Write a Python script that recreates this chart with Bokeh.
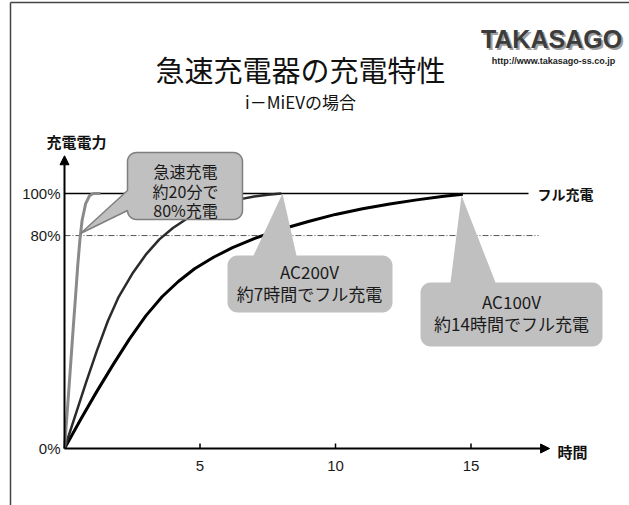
import math
from bokeh.plotting import figure
from bokeh.models import Range1d, Arrow, NormalHead
from bokeh.core.properties import value
from bokeh.embed import file_html
from bokeh.resources import INLINE

# ---------------- data ----------------
fast_hours = [0, 0.16, 0.32, 0.41, 0.49, 0.57, 0.65, 0.78, 0.93, 1.07, 1.33]
fast_pct = [0, 23, 47, 60, 72, 82, 89.5, 96, 99.2, 100, 100]

ac200_hours = [0, 0.4, 0.8, 1.2, 1.6, 2.0, 2.5, 3.0, 3.5, 4.0, 4.5, 5.0, 5.5,
               6.0, 6.5, 7.0, 7.5, 8.0]
ac200_pct = [0, 13, 26, 38.5, 50, 59.5, 68.5, 76, 82, 86.5, 90, 92.8, 95,
             96.6, 97.8, 98.8, 99.5, 100]

ac100_hours = [0, 0.6, 1.2, 1.8, 2.4, 3.0, 3.6, 4.2, 4.8, 5.5, 6.2, 7.0, 8.0,
               9.0, 10.0, 11.0, 12.0, 13.0, 14.0, 14.7]
ac100_pct = [0, 11.5, 22.5, 33, 43, 52, 59.5, 65.5, 70.5, 75, 78.8, 82.3, 86,
             89, 91.8, 94, 95.9, 97.5, 98.9, 99.7]

hour_ticks = [5, 10, 15]
hour_labels = ["5", "10", "15"]
pct_ticks = [0, 83.5, 100]
pct_labels = ["0%", "80%", "100%"]
full_level = 100
threshold_level = 83.5
axis_end_hours = 17.9
axis_end_pct = 114.8

# ---------------- layout helpers ----------------
W, H = 629, 505
X0, Y0 = 64, 448          # pixel position of the origin
SX, SY = 27.1, 2.55       # pixels per hour, pixels per percent

def px(x):
    return (x - X0) / SX

def py(y):
    return (Y0 - y) / SY

JP = value("Noto Sans CJK JP")
LAT = value("Liberation Sans")

p = figure(width=W, height=H,
           x_range=Range1d(-X0 / SX, (W - X0) / SX),
           y_range=Range1d(-(H - Y0) / SY, Y0 / SY),
           output_backend="svg", toolbar_location=None,
           x_axis_location=None, y_axis_location=None,
           min_border=0, outline_line_color=None,
           background_fill_color="white", border_fill_color="white")
p.xgrid.visible = False
p.ygrid.visible = False

# slide frame
p.line([px(10), px(10)], [py(2), py(505)], line_color="#444444", line_width=1.5)
p.line([px(10), px(629)], [py(2), py(2)], line_color="#444444", line_width=1.5)

# title and subtitle
p.text(x=[px(300)], y=[py(68)], text=["急速充電器の充電特性"], text_font=JP,
       text_font_size="29px", text_align="center", text_baseline="middle",
       text_color="#111111")
p.text(x=[px(300)], y=[py(101)], text=["i－MiEVの場合"], text_font=JP,
       text_font_size="17px", text_align="center", text_baseline="middle",
       text_color="#111111")

# logo
p.text(x=[px(553)], y=[py(40)], text=["TAKASAGO"], text_font=LAT,
       text_font_size="25px", text_font_style="bold", text_align="center",
       text_baseline="middle", text_color="#a0a0a0")
p.text(x=[px(551)], y=[py(38)], text=["TAKASAGO"], text_font=LAT,
       text_font_size="25px", text_font_style="bold", text_align="center",
       text_baseline="middle", text_color="#3c3c3c")
p.text(x=[px(553)], y=[py(60)], text=["http://www.takasago-ss.co.jp"], text_font=LAT,
       text_font_size="9px", text_font_style="bold", text_align="center",
       text_baseline="middle", text_color="#222222")

# reference lines
p.line([0, px(528)], [full_level, full_level], line_color="black", line_width=1.5)
p.line([0, px(538)], [threshold_level, threshold_level], line_color="#555555",
       line_width=1, line_dash="6 2 1 2")
p.text(x=[px(537)], y=[full_level], text=["フル充電"], text_font=JP,
       text_font_size="14px", text_font_style="bold", text_align="left",
       text_baseline="middle", text_color="#111111")

# curves
p.line(ac100_hours, ac100_pct, line_color="black", line_width=3, line_join="round")
p.line(ac200_hours, ac200_pct, line_color="#2b2b2b", line_width=2.5, line_join="round")
p.line(fast_hours, fast_pct, line_color="#8a8a8a", line_width=3, line_join="round")

# callouts
def callout(l, t, r, b, rad, edge, base, tip):
    pts = []
    def arc(cx, cy, a0, a1, n=8):
        for k in range(n + 1):
            a = a0 + (a1 - a0) * k / n
            pts.append((cx + rad * math.cos(a), cy + rad * math.sin(a)))
    arc(l + rad, t + rad, math.pi, 1.5 * math.pi)
    if edge == "top":
        pts.extend([(base[0], t), tip, (base[1], t)])
    arc(r - rad, t + rad, 1.5 * math.pi, 2 * math.pi)
    arc(r - rad, b - rad, 0, 0.5 * math.pi)
    arc(l + rad, b - rad, 0.5 * math.pi, math.pi)
    if edge == "left":
        pts.extend([(l, base[1]), tip, (l, base[0])])
    return [px(a) for a, _ in pts], [py(c) for _, c in pts]

BOX = "#c0c0c0"
xs, ys = callout(127, 152, 242, 219, 9, "left", (190, 210), (80, 233))
p.patch(xs, ys, fill_color=BOX, line_color="#7f7f7f", line_width=1.5)
xs, ys = callout(227, 255, 392, 312, 10, "top", (253, 296), (282, 193))
p.patch(xs, ys, fill_color=BOX, line_color=None)
xs, ys = callout(420, 282, 602, 346, 10, "top", (450, 495), (461, 195))
p.patch(xs, ys, fill_color=BOX, line_color=None)

p.text(x=[px(185)] * 3, y=[py(170), py(190), py(209)],
       text=["急速充電", "約20分で", "80%充電"], text_font=JP,
       text_font_size="16px", text_align="center", text_baseline="middle",
       text_color="#1a1a1a")
p.text(x=[px(309)] * 2, y=[py(271), py(293)],
       text=["AC200V", "約7時間でフル充電"], text_font=JP,
       text_font_size="17px", text_align="center", text_baseline="middle",
       text_color="#1a1a1a")
p.text(x=[px(511)] * 2, y=[py(301), py(323)],
       text=["AC100V", "約14時間でフル充電"], text_font=JP,
       text_font_size="17px", text_align="center", text_baseline="middle",
       text_color="#1a1a1a")

# axes
p.add_layout(Arrow(end=NormalHead(size=9, fill_color="black", line_color="black"),
                   x_start=0, y_start=0, x_end=axis_end_hours, y_end=0,
                   line_color="black", line_width=2))
p.add_layout(Arrow(end=NormalHead(size=9, fill_color="black", line_color="black"),
                   x_start=0, y_start=0, x_end=0, y_end=axis_end_pct,
                   line_color="black", line_width=2))
p.segment(x0=hour_ticks, y0=[0] * len(hour_ticks), x1=hour_ticks,
          y1=[5 / SY] * len(hour_ticks), line_color="black", line_width=1.5)
p.text(x=hour_ticks, y=[py(465)] * len(hour_ticks), text=hour_labels, text_font=LAT,
       text_font_size="15px", text_align="center", text_baseline="middle",
       text_color="#1a1a1a")
p.text(x=[px(60)] * len(pct_ticks), y=pct_ticks, text=pct_labels, text_font=LAT,
       text_font_size="15px", text_align="right", text_baseline="middle",
       text_color="#1a1a1a")
p.text(x=[px(76)], y=[py(141)], text=["充電電力"], text_font=JP,
       text_font_size="15px", text_font_style="bold", text_align="center",
       text_baseline="middle", text_color="#111111")
p.text(x=[px(557)], y=[py(451)], text=["時間"], text_font=JP,
       text_font_size="15px", text_font_style="bold", text_align="left",
       text_baseline="middle", text_color="#111111")

open("out.html", "w").write(file_html(p, INLINE))
